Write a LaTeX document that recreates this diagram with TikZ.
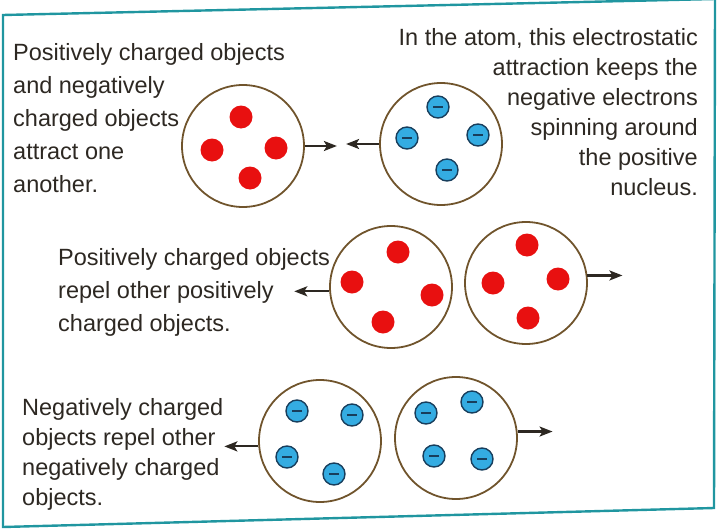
\documentclass[tikz,border=0pt]{standalone}
\usepackage{fontspec}
\setmainfont{Liberation Sans}
\usepackage{xcolor}
\usepackage{tikz}
\usetikzlibrary{arrows.meta}
\definecolor{ink}{RGB}{45,40,34}
\definecolor{rim}{RGB}{112,84,44}
\definecolor{bingkai}{RGB}{32,150,160}
\definecolor{posred}{RGB}{232,16,16}
\definecolor{negblue}{RGB}{52,172,226}
\definecolor{negedge}{RGB}{24,62,92}
\tikzset{
  blob/.style={circle, draw=rim, line width=1.8pt, minimum size=122pt, inner sep=0pt},
  poscharge/.style={circle, fill=posred, minimum size=23pt, inner sep=0pt},
  negcharge/.style={circle, fill=negblue, draw=negedge, line width=1.4pt,
    minimum size=22pt, inner sep=0pt,
    path picture={\draw[negedge, line width=1.6pt]
      ([xshift=-5pt]path picture bounding box.center) --
      ([xshift=5pt]path picture bounding box.center);}},
  push/.style={-{Stealth[length=13pt,width=10pt,inset=3pt]}, line width=2.2pt, ink},
  note/.style={font=\fontsize{23.5}{33}\selectfont, text=ink, inner sep=0pt}
}

\begin{document}
\begin{tikzpicture}[x=1pt, y=-1pt]
  \useasboundingbox (0,0) rectangle (720,530);
  \draw[bingkai, line width=2.4pt] (3,15) -- (715,-1) -- (714,508) -- (3,527) -- cycle;

  % tarik-menarik
  \node[blob] (attrpos) at (243,146) {};
  \node[blob] (attrneg) at (441,144) {};
  \foreach \x/\y [count=\i] in {241/117, 212/150, 276/148, 250/178}
    \node[poscharge] (ap\i) at (\x,\y) {};
  \foreach \x/\y [count=\i] in {438/107, 407/138, 478/135, 447/170}
    \node[negcharge] (an\i) at (\x,\y) {};
  \path (attrpos.east) ++(32,0) coordinate (attrtipL);
  \path (attrneg.west) ++(-33,0) coordinate (attrtipR);
  \draw[push] (attrpos.east) -- (attrtipL);
  \draw[push] (attrneg.west) -- (attrtipR);

  % tolak positif
  \node[blob] (posL) at (391,287) {};
  \node[blob] (posR) at (526,283) {};
  \foreach \x/\y [count=\i] in {398/252, 352/282, 432/295, 383/322}
    \node[poscharge] (pl\i) at (\x,\y) {};
  \foreach \x/\y [count=\i] in {527/245, 493/283, 558/279, 528/318}
    \node[poscharge] (pr\i) at (\x,\y) {};
  \path (posL.184) ++(-35,0) coordinate (postipL);
  \path (posR.7) ++(35,0) coordinate (postipR);
  \draw[push] (posL.184) -- (postipL);
  \draw[push] (posR.7) -- (postipR);

  % tolak negatif
  \node[blob] (negL) at (320,441) {};
  \node[blob] (negR) at (456,438) {};
  \foreach \x/\y [count=\i] in {297/411, 352/415, 287/457, 334/474}
    \node[negcharge] (nl\i) at (\x,\y) {};
  \foreach \x/\y [count=\i] in {426/413, 472/402, 434/456, 482/459}
    \node[negcharge] (nr\i) at (\x,\y) {};
  \path (negL.185) ++(-34,0) coordinate (negtipL);
  \path (negR.6) ++(35,0) coordinate (negtipR);
  \draw[push] (negL.185) -- (negtipL);
  \draw[push] (negR.6) -- (negtipR);

  % teks
  \node[note, anchor=north west, align=left] (txtattract) at (13,43)
    {Positively charged objects\\and negatively\\charged objects\\attract one\\another.};
  \node[note, font=\fontsize{23.5}{30}\selectfont, anchor=north east, align=right] (txtatom) at (698,28)
    {In the atom, this electrostatic\\attraction keeps the\\negative electrons\\spinning around\\the positive\\nucleus.};
  \node[note, anchor=north west, align=left] (txtpos) at (58,248)
    {Positively charged objects\\repel other positively\\charged objects.};
  \node[note, font=\fontsize{23.5}{30}\selectfont, anchor=north west, align=left] (txtneg) at (22,398)
    {Negatively charged\\objects repel other\\negatively charged\\objects.};
\end{tikzpicture}
\end{document}
